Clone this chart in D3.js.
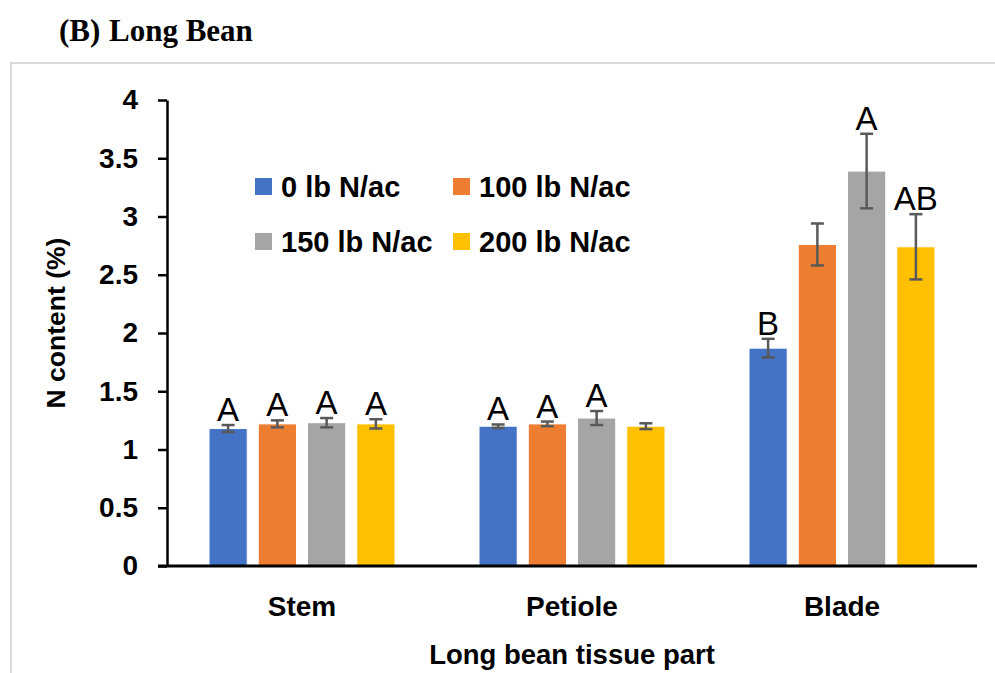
<!DOCTYPE html>
<html>
<head>
<meta charset="utf-8">
<script src="https://cdn.jsdelivr.net/npm/d3@7"></script>
<style>
  html, body { margin: 0; padding: 0; background: #fff; }
  svg { display: block; }
</style>
</head>
<body>
<svg id="chart" width="995" height="673"></svg>
<script>
// ---- data ----
const categories = ["Stem", "Petiole", "Blade"];
const seriesNames = ["0 lb N/ac", "100 lb N/ac", "150 lb N/ac", "200 lb N/ac"];
const seriesColors = ["#4472C4", "#ED7D31", "#A5A5A5", "#FFC000"];
// values per series, in category order (Stem, Petiole, Blade)
const values0   = [1.18, 1.20, 1.87];
const values100 = [1.22, 1.22, 2.76];
const values150 = [1.23, 1.27, 3.39];
const values200 = [1.22, 1.20, 2.74];
const errors0   = [0.03, 0.015, 0.08];
const errors100 = [0.03, 0.02, 0.18];
const errors150 = [0.04, 0.06, 0.32];
const errors200 = [0.04, 0.025, 0.28];
const letters0   = ["A", "A", "B"];
const letters100 = ["A", "A", ""];
const letters150 = ["A", "A", "A"];
const letters200 = ["A", "", "AB"];
const yTicks = [0, 0.5, 1, 1.5, 2, 2.5, 3, 3.5, 4];

const seriesValues = [values0, values100, values150, values200];
const seriesErrors = [errors0, errors100, errors150, errors200];
const seriesLetters = [letters0, letters100, letters150, letters200];

const rows = [];
categories.forEach((c, ci) => {
  seriesNames.forEach((s, si) => {
    rows.push({cat: c, series: s, si, value: seriesValues[si][ci], err: seriesErrors[si][ci], letter: seriesLetters[si][ci]});
  });
});

// ---- layout ----
const svg = d3.select("#chart");
const plotLeft = 167, plotRight = 977, plotTop = 100, plotBottom = 566;
const groupWidth = 186;

// frame
svg.append("rect")
  .attr("x", 11).attr("y", 63).attr("width", 1000).attr("height", 700)
  .attr("fill", "none").attr("stroke", "#d9d9d9").attr("stroke-width", 2);

// title
const title = svg.append("text")
  .attr("y", 41)
  .attr("font-family", "'Liberation Serif', 'Times New Roman', serif")
  .attr("font-weight", "bold").attr("font-size", 31).attr("fill", "#000");
title.append("tspan").attr("x", 59).text("(B)");
title.append("tspan").attr("x", 109).text("Long Bean");

const x0 = d3.scaleBand().domain(categories).range([plotLeft, plotRight]).padding(0);
const x1 = d3.scaleBand().domain(seriesNames)
  .range([(x0.bandwidth() - groupWidth) / 2, (x0.bandwidth() + groupWidth) / 2])
  .paddingInner(0.224).paddingOuter(0);
const y = d3.scaleLinear().domain([0, 4]).range([plotBottom, plotTop]);
const color = d3.scaleOrdinal().domain(seriesNames).range(seriesColors);

const axisFont = "'Liberation Sans', Arial, sans-serif";

// bars
const g = svg.append("g");
g.selectAll("rect.bar").data(rows).join("rect")
  .attr("class", "bar")
  .attr("x", d => x0(d.cat) + x1(d.series))
  .attr("width", x1.bandwidth())
  .attr("y", d => y(d.value))
  .attr("height", d => y(0) - y(d.value))
  .attr("fill", d => color(d.series))
  .attr("stroke", "#ffffff").attr("stroke-width", 1);

// error bars
const eb = g.selectAll("g.err").data(rows).join("g").attr("class", "err")
  .attr("stroke", "#595959").attr("stroke-width", 2.5);
const cx = d => x0(d.cat) + x1(d.series) + x1.bandwidth() / 2;
eb.append("line")
  .attr("x1", cx).attr("x2", cx)
  .attr("y1", d => y(d.value + d.err)).attr("y2", d => y(d.value - d.err));
eb.append("line")
  .attr("x1", d => cx(d) - 6.5).attr("x2", d => cx(d) + 6.5)
  .attr("y1", d => y(d.value + d.err)).attr("y2", d => y(d.value + d.err));
eb.append("line")
  .attr("x1", d => cx(d) - 6.5).attr("x2", d => cx(d) + 6.5)
  .attr("y1", d => y(d.value - d.err)).attr("y2", d => y(d.value - d.err));

// significance letters
g.selectAll("text.letter").data(rows.filter(d => d.letter)).join("text")
  .attr("class", "letter")
  .attr("x", cx)
  .attr("y", d => y(d.value + d.err) - 4)
  .attr("text-anchor", "middle")
  .attr("font-family", axisFont).attr("font-size", 33).attr("fill", "#000")
  .text(d => d.letter);

// y axis
const yAxis = svg.append("g")
  .attr("transform", `translate(${plotLeft},0)`)
  .call(d3.axisLeft(y).tickValues(yTicks).tickFormat(d3.format("")).tickSize(9).tickSizeOuter(0).tickPadding(20));
yAxis.select(".domain").attr("stroke", "#000").attr("stroke-width", 2.5);
yAxis.selectAll(".tick line").attr("stroke", "#000").attr("stroke-width", 2.5);
yAxis.selectAll(".tick text")
  .attr("font-family", axisFont).attr("font-weight", "bold").attr("font-size", 28).attr("fill", "#000");

// x axis
const xAxis = svg.append("g")
  .attr("transform", `translate(0,${plotBottom})`)
  .call(d3.axisBottom(x0).tickSize(0).tickPadding(30));
xAxis.select(".domain").attr("d", `M${plotLeft - 9},0H${plotRight}`).attr("stroke", "#000").attr("stroke-width", 3);
xAxis.selectAll(".tick text")
  .attr("font-family", axisFont).attr("font-weight", "bold").attr("font-size", 28).attr("fill", "#000");

// axis titles
svg.append("text")
  .attr("transform", "translate(65,323) rotate(-90)")
  .attr("text-anchor", "middle")
  .attr("font-family", axisFont).attr("font-weight", "bold").attr("font-size", 26.5).attr("fill", "#000")
  .text("N content (%)");
svg.append("text")
  .attr("x", 572).attr("y", 664)
  .attr("text-anchor", "middle")
  .attr("font-family", axisFont).attr("font-weight", "bold").attr("font-size", 27.5).attr("fill", "#000")
  .text("Long bean tissue part");

// legend
const legendPos = [[255, 187], [453, 187], [255, 242], [453, 242]];
const lg = svg.append("g").selectAll("g").data(seriesNames).join("g")
  .attr("transform", (d, i) => `translate(${legendPos[i][0]},${legendPos[i][1]})`);
lg.append("rect").attr("x", 0).attr("y", -9).attr("width", 17).attr("height", 17)
  .attr("fill", d => color(d));
lg.append("text").attr("x", 26).attr("y", 9.5)
  .attr("font-family", axisFont).attr("font-weight", "bold").attr("font-size", 29).attr("fill", "#000")
  .text(d => d);
</script>
</body>
</html>
